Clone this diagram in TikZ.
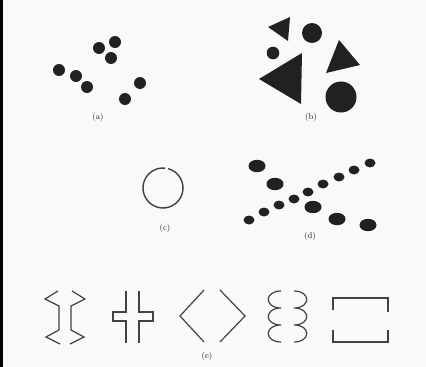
\documentclass[tikz,border=0pt]{standalone}
\usepackage{tikz}
\usetikzlibrary{positioning}
\definecolor{ink}{gray}{0.13}
\definecolor{paper}{gray}{0.975}

\begin{document}
\begin{tikzpicture}[x=1pt, y=-1pt,
  dot/.style={fill=ink},
  stroke/.style={draw=ink!85, line width=1.2pt, line join=miter},
  lbl/.style={font=\fontsize{8.5}{10}\selectfont, text=ink, inner sep=0pt}]
  % page and left edge
  \fill[paper] (0,0) rectangle (426,367);
  \fill[black] (0,0) rectangle (3,367);
  \useasboundingbox (0,0) rectangle (426,367);

  % (a) proximity
  \foreach \x/\y in {99/48, 115/42, 111/58, 59/70, 76/76, 87/87, 140/83, 125/99}
    \fill[dot] (\x,\y) circle (6);
  \node[lbl] (lbla) at (98,117) {(a)};

  % (b) similarity
  \fill[dot] (268,27) -- (290,17) -- (288,41) -- cycle;
  \fill[dot] (259,79) -- (302,53) -- (301,104) -- cycle;
  \fill[dot] (339,40) -- (360,65) -- (326,73) -- cycle;
  \fill[dot] (312,33) circle (10);
  \fill[dot] (273,53) circle (6.3);
  \fill[dot] (341,97) circle (15.5);
  \node[lbl] (lblb) at (311,117) {(b)};

  % (c) closure
  \draw[draw=ink!85, line width=1.4pt] (163,188) ++(285:20) arc[start angle=285, end angle=636, radius=20];
  \node[lbl] (lblc) at (165,228) {(c)};

  % (d) continuity
  \foreach \x/\y in {249/220, 264/212, 279/205, 294/199, 308/192, 323/184, 339/177, 354/170, 370/163}
    \fill[dot] (\x,\y) ellipse (5.5 and 4.5);
  \foreach \x/\y in {257/166, 275/184, 313/207, 337/219, 368/225}
    \fill[dot] (\x,\y) ellipse (8.5 and 6.2);
  \node[lbl] (lbld) at (310,236) {(d)};

  % (e) closure vs proximity
  \draw[stroke] (58,291) -- (45,299) -- (59,306) -- (59,330) -- (46,337) -- (60,344);
  \draw[stroke] (72,291) -- (85,299) -- (71,306) -- (71,330) -- (84,337) -- (70,344);

  \draw[stroke] (126,291) -- (126,312) -- (113,312) -- (113,321) -- (126,321) -- (126,343);
  \draw[stroke] (139,291) -- (139,312) -- (153,312) -- (153,321) -- (139,321) -- (139,343);

  \draw[stroke] (204,290) -- (180,316) -- (204,342);
  \draw[stroke] (220,290) -- (245,316) -- (220,342);

  \draw[stroke] (281,291) .. controls (264,291) and (264,308) .. (281,308)
    .. controls (264,308) and (264,325) .. (281,325)
    .. controls (264,325) and (264,342) .. (281,342);
  \draw[stroke] (294,291) .. controls (311,291) and (311,308) .. (294,308)
    .. controls (311,308) and (311,325) .. (294,325)
    .. controls (311,325) and (311,342) .. (294,342);

  \draw[stroke] (333,310) -- (333,298) -- (388,298) -- (388,312);
  \draw[stroke] (333,330) -- (333,342) -- (388,342) -- (388,330);
  \node[lbl] (lble) at (207,356) {(e)};
\end{tikzpicture}
\end{document}
